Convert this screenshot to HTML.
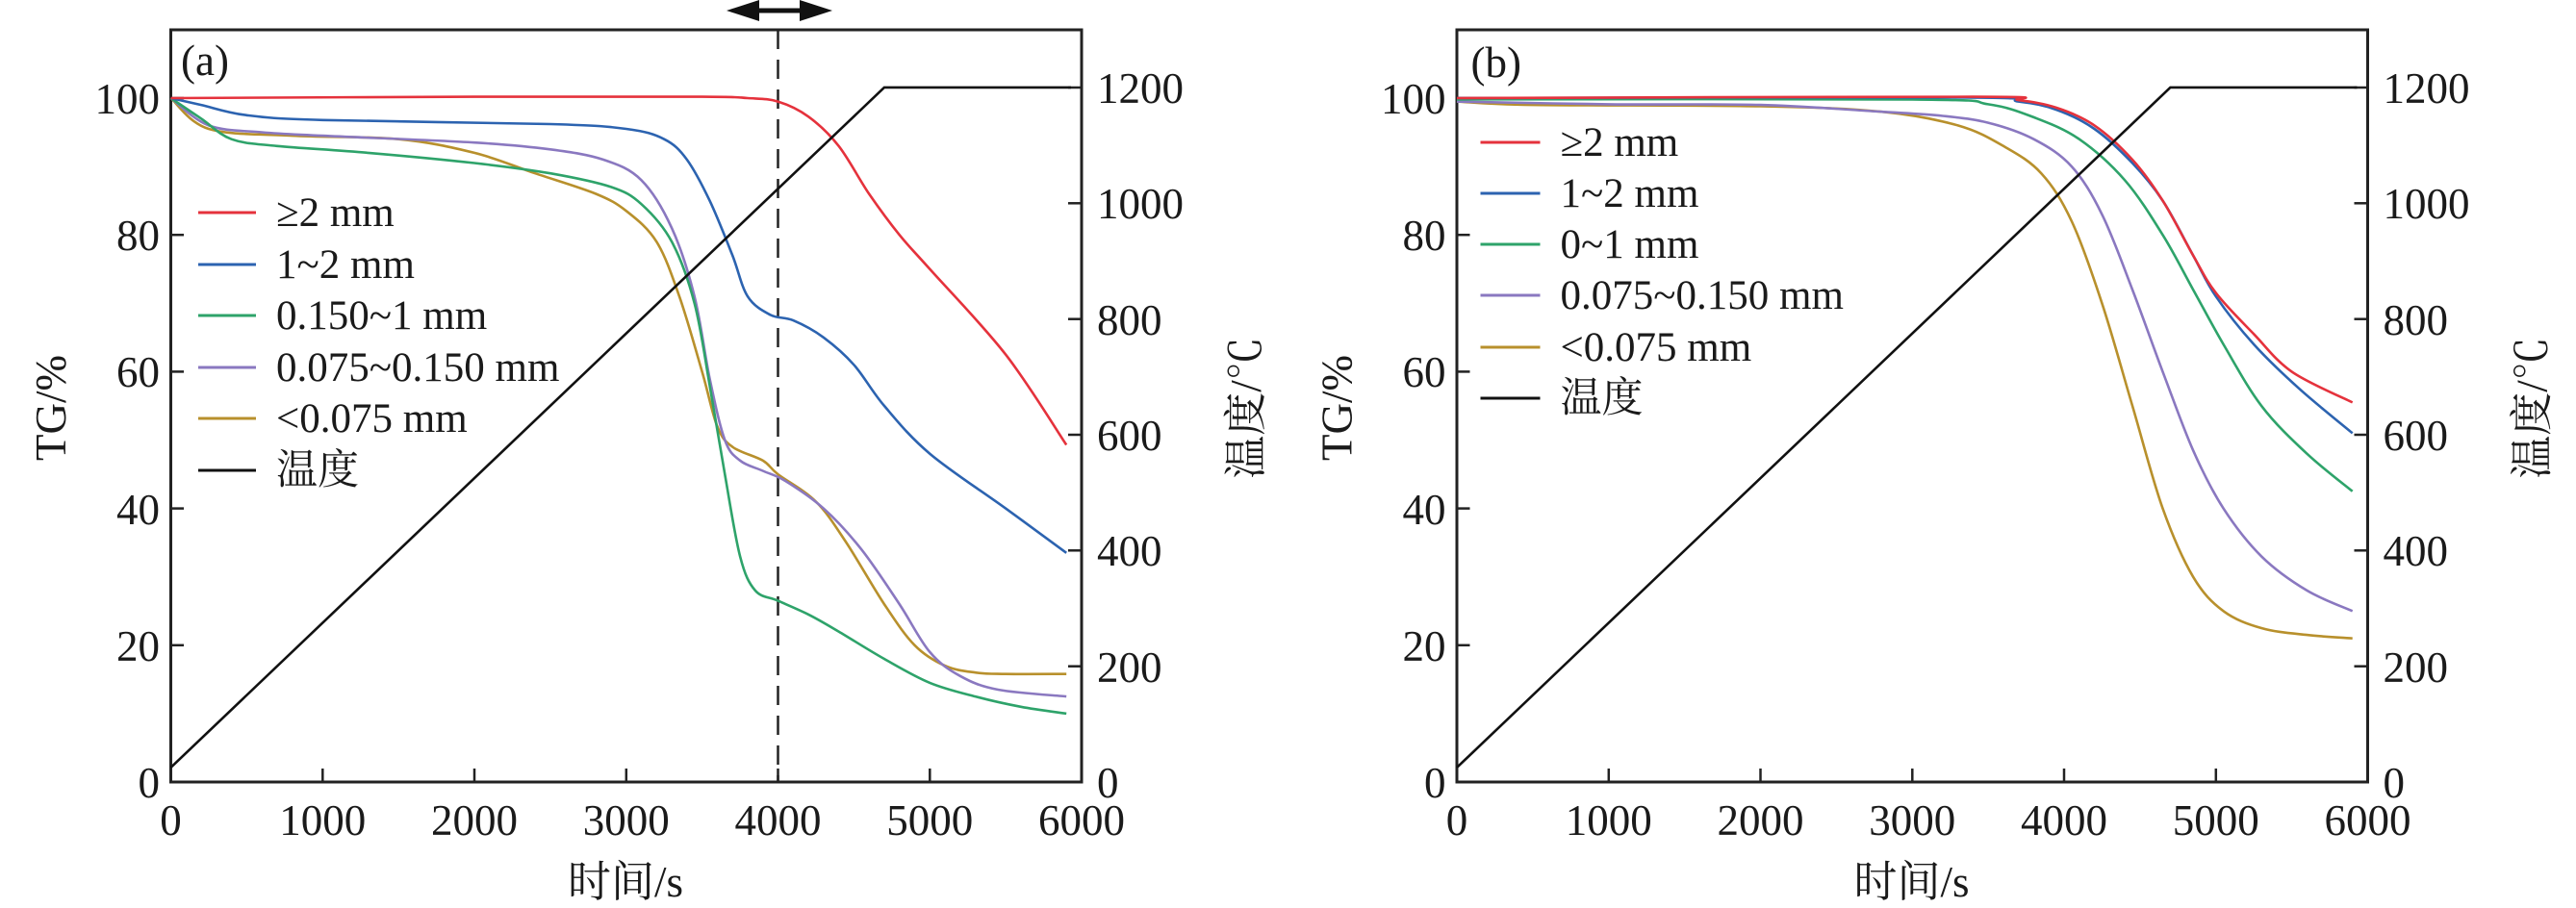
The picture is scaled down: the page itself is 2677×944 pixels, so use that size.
<!DOCTYPE html>
<html><head><meta charset="utf-8"><style>
html,body{margin:0;padding:0;background:#fff;}
svg{display:block;}
text{font-family:"Liberation Serif","Noto Serif CJK SC","Noto Sans CJK SC",serif;fill:#1a1a1a;}
.t{font-size:45px;}
.l{font-size:43px;}
.ax{font-size:45px;}
</style></head><body>
<svg id="s" width="2677" height="944" viewBox="0 0 2677 944" xmlns="http://www.w3.org/2000/svg">
<g id="pa">
<rect x="177.5" y="31" width="946.5" height="782" fill="none" stroke="#222" stroke-width="3"/>
<g stroke="#222" stroke-width="2.5">
<line x1="335.3" y1="813" x2="335.3" y2="799"/><line x1="493" y1="813" x2="493" y2="799"/><line x1="650.8" y1="813" x2="650.8" y2="799"/><line x1="808.5" y1="813" x2="808.5" y2="799"/><line x1="966.3" y1="813" x2="966.3" y2="799"/>
<line x1="177.5" y1="670.8" x2="191" y2="670.8"/><line x1="177.5" y1="528.6" x2="191" y2="528.6"/><line x1="177.5" y1="386.4" x2="191" y2="386.4"/><line x1="177.5" y1="244.2" x2="191" y2="244.2"/><line x1="177.5" y1="102" x2="191" y2="102"/>
<line x1="1124" y1="692.7" x2="1110" y2="692.7"/><line x1="1124" y1="572.3" x2="1110" y2="572.3"/><line x1="1124" y1="452" x2="1110" y2="452"/><line x1="1124" y1="331.7" x2="1110" y2="331.7"/><line x1="1124" y1="211.3" x2="1110" y2="211.3"/><line x1="1124" y1="91" x2="1110" y2="91"/>
</g>
<g class="t" text-anchor="middle">
<text x="177.5" y="868">0</text><text x="335.3" y="868">1000</text><text x="493" y="868">2000</text><text x="650.8" y="868">3000</text><text x="808.5" y="868">4000</text><text x="966.3" y="868">5000</text><text x="1124" y="868">6000</text>
</g>
<g class="t" text-anchor="end">
<text x="166" y="829">0</text><text x="166" y="687">20</text><text x="166" y="545">40</text><text x="166" y="402">60</text><text x="166" y="260">80</text><text x="166" y="118">100</text>
</g>
<g class="t" text-anchor="start">
<text x="1140" y="829">0</text><text x="1140" y="709">200</text><text x="1140" y="588">400</text><text x="1140" y="468">600</text><text x="1140" y="348">800</text><text x="1140" y="227">1000</text><text x="1140" y="107">1200</text>
</g>
<text class="ax" x="650" y="932" text-anchor="middle">时间/s</text>
<text class="ax" transform="translate(68,424) rotate(-90)" text-anchor="middle">TG/%</text>
<text class="ax" transform="translate(1310,424) rotate(-90)" text-anchor="middle">温度/℃</text>
<text class="t" x="188" y="78">(a)</text>
<line x1="808.5" y1="31" x2="808.5" y2="813" stroke="#222" stroke-width="2.5" stroke-dasharray="20,11"/>
<line x1="780" y1="11" x2="840" y2="11" stroke="#111" stroke-width="5"/>
<polygon points="755,11 789,0 789,22" fill="#111"/><polygon points="865,11 831,0 831,22" fill="#111"/>
<g stroke-width="3">
<line x1="206" y1="221" x2="266" y2="221" stroke="#e5323c"/>
<line x1="206" y1="275" x2="266" y2="275" stroke="#2c63b0"/>
<line x1="206" y1="328" x2="266" y2="328" stroke="#2ea36a"/>
<line x1="206" y1="382" x2="266" y2="382" stroke="#8a78c0"/>
<line x1="206" y1="435" x2="266" y2="435" stroke="#b8902c"/>
<line x1="206" y1="489" x2="266" y2="489" stroke="#111"/>
</g>
<g class="l">
<text x="287" y="235">≥2 mm</text><text x="287" y="289">1~2 mm</text><text x="287" y="342">0.150~1 mm</text><text x="287" y="396">0.075~0.150 mm</text><text x="287" y="449">&lt;0.075 mm</text><text x="287" y="503">温度</text>
</g>
<g id="ca"></g>
</g>
<g id="pb" transform="translate(1336.5,0)">
<rect x="177.5" y="31" width="946.5" height="782" fill="none" stroke="#222" stroke-width="3"/>
<g stroke="#222" stroke-width="2.5">
<line x1="335.3" y1="813" x2="335.3" y2="799"/><line x1="493" y1="813" x2="493" y2="799"/><line x1="650.8" y1="813" x2="650.8" y2="799"/><line x1="808.5" y1="813" x2="808.5" y2="799"/><line x1="966.3" y1="813" x2="966.3" y2="799"/>
<line x1="177.5" y1="670.8" x2="191" y2="670.8"/><line x1="177.5" y1="528.6" x2="191" y2="528.6"/><line x1="177.5" y1="386.4" x2="191" y2="386.4"/><line x1="177.5" y1="244.2" x2="191" y2="244.2"/><line x1="177.5" y1="102" x2="191" y2="102"/>
<line x1="1124" y1="692.7" x2="1110" y2="692.7"/><line x1="1124" y1="572.3" x2="1110" y2="572.3"/><line x1="1124" y1="452" x2="1110" y2="452"/><line x1="1124" y1="331.7" x2="1110" y2="331.7"/><line x1="1124" y1="211.3" x2="1110" y2="211.3"/><line x1="1124" y1="91" x2="1110" y2="91"/>
</g>
<g class="t" text-anchor="middle">
<text x="177.5" y="868">0</text><text x="335.3" y="868">1000</text><text x="493" y="868">2000</text><text x="650.8" y="868">3000</text><text x="808.5" y="868">4000</text><text x="966.3" y="868">5000</text><text x="1124" y="868">6000</text>
</g>
<g class="t" text-anchor="end">
<text x="166" y="829">0</text><text x="166" y="687">20</text><text x="166" y="545">40</text><text x="166" y="402">60</text><text x="166" y="260">80</text><text x="166" y="118">100</text>
</g>
<g class="t" text-anchor="start">
<text x="1140" y="829">0</text><text x="1140" y="709">200</text><text x="1140" y="588">400</text><text x="1140" y="468">600</text><text x="1140" y="348">800</text><text x="1140" y="227">1000</text><text x="1140" y="107">1200</text>
</g>
<text class="ax" x="650" y="932" text-anchor="middle">时间/s</text>
<text class="ax" transform="translate(68,424) rotate(-90)" text-anchor="middle">TG/%</text>
<text class="ax" transform="translate(1310,424) rotate(-90)" text-anchor="middle">温度/℃</text>
<text class="t" x="192" y="80">(b)</text>
<g stroke-width="3">
<line x1="202" y1="148" x2="264" y2="148" stroke="#e5323c"/>
<line x1="202" y1="201" x2="264" y2="201" stroke="#2c63b0"/>
<line x1="202" y1="254" x2="264" y2="254" stroke="#2ea36a"/>
<line x1="202" y1="307" x2="264" y2="307" stroke="#8a78c0"/>
<line x1="202" y1="361" x2="264" y2="361" stroke="#b8902c"/>
<line x1="202" y1="414" x2="264" y2="414" stroke="#111"/>
</g>
<g class="l">
<text x="285" y="162">≥2 mm</text><text x="285" y="215">1~2 mm</text><text x="285" y="268">0~1 mm</text><text x="285" y="321">0.075~0.150 mm</text><text x="285" y="375">&lt;0.075 mm</text><text x="285" y="428">温度</text>
</g>
<g id="cb"></g>
</g>
</svg>
<script>
var X=function(t){return 177.5+t*0.15775},Y=function(v){return 813-v*7.11},YT=function(T){return 813-T*0.6017};
function path(pts,yf){yf=yf||Y;var p=pts.map(function(a){return [X(a[0]),yf(a[1])]});var d="M"+p[0][0].toFixed(1)+","+p[0][1].toFixed(1);
for(var i=0;i<p.length-1;i++){var p0=p[i-1]||p[i],p1=p[i],p2=p[i+1],p3=p[i+2]||p2;
var c1=[p1[0]+(p2[0]-p0[0])/6,p1[1]+(p2[1]-p0[1])/6],c2=[p2[0]-(p3[0]-p1[0])/6,p2[1]-(p3[1]-p1[1])/6];
d+="C"+c1[0].toFixed(1)+","+c1[1].toFixed(1)+" "+c2[0].toFixed(1)+","+c2[1].toFixed(1)+" "+p2[0].toFixed(1)+","+p2[1].toFixed(1);}return d;}
function add(g,d,c){var e=document.createElementNS("http://www.w3.org/2000/svg","path");e.setAttribute("d",d);e.setAttribute("fill","none");e.setAttribute("stroke",c);e.setAttribute("stroke-width","2.6");g.appendChild(e);}
var R="#e5323c",B="#2c63b0",G="#2ea36a",P="#8a78c0",O="#b8902c";
var temp="M"+X(0)+","+YT(25)+"L"+X(4700)+","+YT(1200)+"L"+X(5930)+","+YT(1200);
var ga=document.getElementById("ca"),gb=document.getElementById("cb");
var A=[
[O,[[0,100],[250,95.5],[800,94.5],[1500,94],[2000,92],[2400,89],[2800,86],[3000,83.5],[3200,79],[3350,71],[3500,60],[3600,52],[3700,49],[3900,47],[4000,45],[4250,41],[4450,35],[4700,26],[4900,20],[5100,17],[5300,16],[5500,15.8],[5900,15.8]]],
[P,[[0,100],[250,96],[600,95],[1000,94.5],[2000,93.5],[2500,92.5],[2850,91],[3100,88],[3300,81],[3450,71],[3550,59],[3650,50],[3750,47],[3900,45.5],[4050,44],[4300,40],[4550,34],[4800,26],[5000,19],[5200,15.5],[5450,13.5],[5900,12.5]]],
[G,[[0,100],[200,97],[400,94],[700,93],[1300,92],[2000,90.5],[2500,89],[2900,87],[3100,84.5],[3300,79],[3450,70],[3550,58],[3650,45],[3750,33],[3850,28],[4000,26.5],[4200,24.5],[4400,22],[4700,18],[5000,14.5],[5300,12.5],[5600,11],[5900,10]]],
[B,[[0,100],[200,99],[500,97.5],[1000,96.8],[2500,96.2],[3000,95.5],[3250,94],[3400,91],[3550,85],[3700,77],[3800,71],[3950,68.3],[4100,67.5],[4300,65],[4500,61],[4700,55],[5000,48],[5500,40],[5900,33.5]]],
[R,[[0,100],[2000,100.2],[3500,100.2],[3800,100],[4000,99.5],[4200,97.3],[4400,93],[4600,86],[4800,80],[5000,75],[5500,62.5],[5900,49.3]]]];
var Bd=[
[O,[[0,99.5],[500,99],[2000,98.8],[2800,98],[3300,96],[3600,93],[3850,89],[4050,82],[4250,70],[4450,55],[4650,40],[4850,30],[5050,25],[5300,22.5],[5600,21.5],[5900,21]]],
[P,[[0,99.5],[1000,99.1],[2000,99],[2800,98],[3200,97.4],[3500,96.4],[3800,94],[4050,90],[4250,83],[4450,72],[4650,60],[4850,48.5],[5050,40],[5300,33],[5600,28],[5900,25]]],
[G,[[0,99.8],[3000,99.8],[3500,99.1],[3800,97.2],[4100,94],[4400,88],[4650,80],[4850,72],[5050,64],[5300,55],[5600,48],[5900,42.5]]],
[B,[[0,100],[3300,100.1],[3700,99.5],[3950,98.3],[4200,95.5],[4450,90.5],[4650,85],[4850,77],[5000,71],[5250,64],[5550,57.5],[5900,51]]],
[R,[[0,100],[3400,100.2],[3700,99.7],[3950,98.6],[4200,96],[4450,91],[4650,85],[4850,77],[5000,71.5],[5250,65.5],[5500,60],[5900,55.5]]]];
A.forEach(function(s){add(ga,path(s[1]),s[0]);});add(ga,temp,"#111");
Bd.forEach(function(s){add(gb,path(s[1]),s[0]);});add(gb,temp,"#111");
</script>
</body></html>
